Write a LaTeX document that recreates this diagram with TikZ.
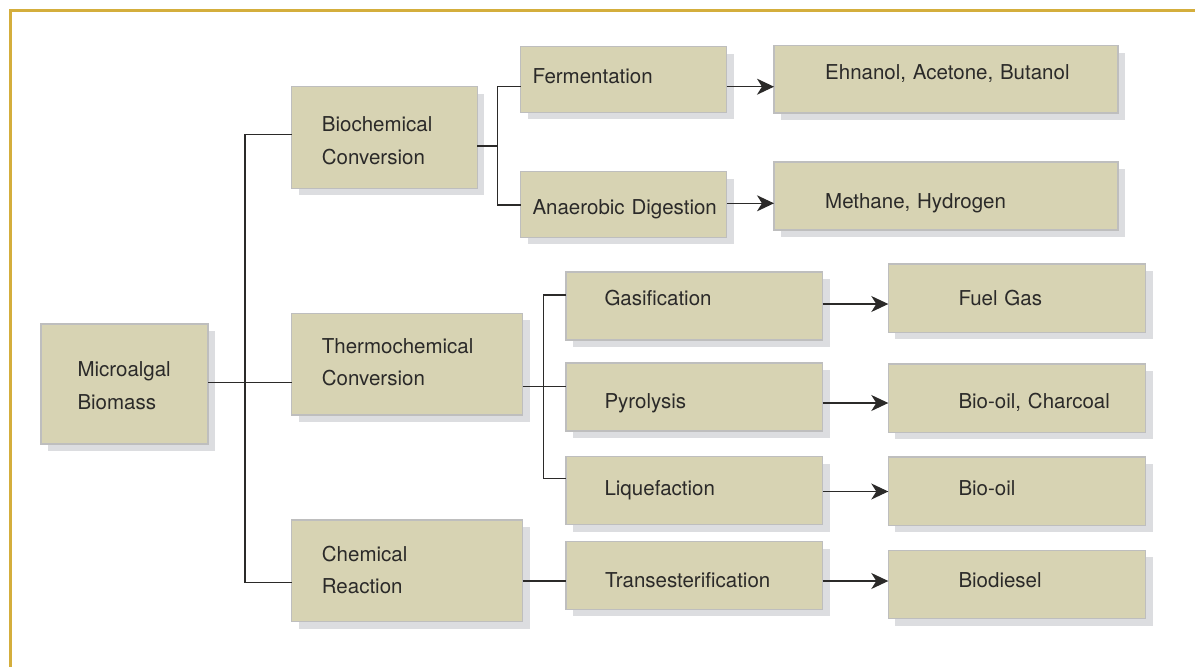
\documentclass[tikz,border=0pt]{standalone}
\usepackage{fontspec}
\setmainfont{TeX Gyre Heros}
\usetikzlibrary{arrows.meta, shadows}
\definecolor{frame}{HTML}{D4AE3C}
\definecolor{boxfill}{HTML}{D7D3B3}
\definecolor{boxline}{HTML}{BEBEBE}
\definecolor{shade}{HTML}{DCDDE0}
\definecolor{ink}{HTML}{2B2A29}
\tikzset{blk/.style = {draw = boxline, fill = boxfill, line width = 1.3pt, anchor = north west,
    inner sep = 0pt, outer sep = 0pt,
    drop shadow = {shadow xshift = 7pt, shadow yshift = -7pt, fill = shade, draw = none, opacity = 1}}}
\tikzset{lbl/.style = {anchor = base west, inner sep = 0pt, text = ink, align = left, text width = 330pt,
    font = \fontsize{20.5}{32.3}\selectfont}}
\tikzset{wire/.style = {draw = ink, line width = 1.2pt}}
\tikzset{arr/.style = {wire, -{Stealth[length = 17pt, width = 16pt, inset = 5pt]}}}

\begin{document}
\begin{tikzpicture}[x = 1pt, y = -1pt]
\useasboundingbox (0,0) rectangle (1195,667);
\draw[frame, line width = 3pt] (1195,10.5) -- (10.3,10.5) -- (10.3,667);

\node[blk, minimum width = 167, minimum height = 120] (MB) at (41,324) {};
\node[blk, minimum width = 185.6, minimum height = 101.6] (Bio) at (291.7,86.7) {};
\node[blk, minimum width = 231, minimum height = 101.7] (Thermo) at (291.7,313.3) {};
\node[blk, minimum width = 231, minimum height = 101.7] (Chem) at (291.7,520) {};
\node[blk, minimum width = 206, minimum height = 65.6] (Ferm) at (520.7,46.7) {};
\node[blk, minimum width = 206, minimum height = 65.6] (Anae) at (520.7,171.7) {};
\node[blk, minimum width = 256.5, minimum height = 68] (Gas) at (566,272) {};
\node[blk, minimum width = 256.5, minimum height = 68] (Pyro) at (566,363) {};
\node[blk, minimum width = 256.5, minimum height = 68] (Liq) at (566,456.5) {};
\node[blk, minimum width = 256.5, minimum height = 67.6] (Trans) at (566,541.7) {};
\node[blk, minimum width = 344, minimum height = 67.3] (Eth) at (774,45.7) {};
\node[blk, minimum width = 344, minimum height = 68] (Meth) at (774,162) {};
\node[blk, minimum width = 257.4, minimum height = 68.3] (Fuel) at (888.3,264) {};
\node[blk, minimum width = 257.4, minimum height = 68.3] (Char) at (888.3,364) {};
\node[blk, minimum width = 257.4, minimum height = 68.3] (Oil) at (888.3,457) {};
\node[blk, minimum width = 257.4, minimum height = 68.3] (Diesel) at (888.3,550.3) {};

\node[lbl] (MBt) at (77.3,376.7) {Microalgal\\Biomass};
\node[lbl] (Biot) at (321.7,131.7) {Biochemical\\Conversion};
\node[lbl] (Thermot) at (321.7,353.3) {Thermochemical\\Conversion};
\node[lbl] (Chemt) at (321.7,561) {Chemical\\Reaction};
\node[lbl] (Fermt) at (532.3,83.3) {Fermentation};
\node[lbl] (Anaet) at (532.3,214.3) {Anaerobic Digestion};
\node[lbl] (Gast) at (604.3,305.7) {Gasification};
\node[lbl] (Pyrot) at (604.3,408.3) {Pyrolysis};
\node[lbl] (Liqt) at (604.3,495.7) {Liquefaction};
\node[lbl] (Transt) at (605,587.7) {Transesterification};
\node[lbl] (Etht) at (825,79.3) {Ehnanol, Acetone, Butanol};
\node[lbl] (Metht) at (825,208.3) {Methane, Hydrogen};
\node[lbl] (Fuelt) at (958.3,305.7) {Fuel Gas};
\node[lbl] (Chart) at (958.3,408.3) {Bio-oil, Charcoal};
\node[lbl] (Oilt) at (958.3,495) {Bio-oil};
\node[lbl] (Dieselt) at (958.3,587.3) {Biodiesel};

\coordinate (T1) at (245,134.3);
\coordinate (T2) at (245,382.3);
\coordinate (T3) at (245,582.7);
\draw[wire] (Bio.west |- T1) -- (T1) -- (T3) -- (Chem.west |- T3);
\draw[wire] (MB.east |- T2) -- (Thermo.west |- T2);

\coordinate (B1) at (497.3,86.7);
\coordinate (B2) at (497.3,146);
\coordinate (B3) at (497.3,205);
\draw[wire] (Ferm.west |- B1) -- (B1) -- (B3) -- (Anae.west |- B3);
\draw[wire] (Bio.east |- B2) -- (B2);

\coordinate (H1) at (543.3,295);
\coordinate (H2) at (543.3,386.7);
\coordinate (H3) at (543.3,478.7);
\draw[wire] (Gas.west |- H1) -- (H1) -- (H3) -- (Liq.west |- H3);
\draw[wire] (Thermo.east |- H2) -- (Pyro.west |- H2);

\coordinate (C1) at (544,581);
\draw[wire] (Chem.east |- C1) -- (Trans.west |- C1);

\coordinate (R1) at (750,86.7);
\coordinate (R2) at (750,203.3);
\coordinate (R3) at (855,304);
\coordinate (R4) at (855,403);
\coordinate (R5) at (855,491.5);
\coordinate (R6) at (855,581);
\draw[arr] (Ferm.east |- R1) -- (Eth.west |- R1);
\draw[arr] (Anae.east |- R2) -- (Meth.west |- R2);
\draw[arr] (Gas.east |- R3) -- (Fuel.west |- R3);
\draw[arr] (Pyro.east |- R4) -- (Char.west |- R4);
\draw[arr] (Liq.east |- R5) -- (Oil.west |- R5);
\draw[arr] (Trans.east |- R6) -- (Diesel.west |- R6);
\end{tikzpicture}
\end{document}
